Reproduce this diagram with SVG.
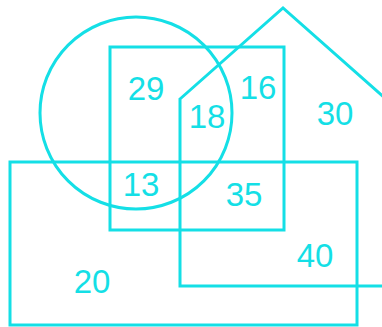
<svg xmlns="http://www.w3.org/2000/svg" width="382" height="327" viewBox="0 0 382 327">
<style>
.s{fill:none;stroke:#14dfe6;stroke-width:3}
.t{font-family:"Liberation Sans",Arial,sans-serif;font-size:33px;fill:#14dfe6;text-anchor:middle}
</style>
<rect width="382" height="327" fill="#fff"/>
<g id="circle"><circle class="s" cx="136" cy="113" r="96"/></g>
<g id="square"><rect class="s" x="110" y="47" width="174" height="183"/></g>
<g id="rectangle"><rect class="s" x="10" y="162" width="347" height="163"/></g>
<g id="house"><polygon class="s" points="180,99 283,8 386,99 386,286 180,286"/></g>
<g id="labels">
<text class="t" x="146" y="100">29</text>
<text class="t" x="258" y="99">16</text>
<text class="t" x="207" y="128">18</text>
<text class="t" x="335" y="125">30</text>
<text class="t" x="141" y="196">13</text>
<text class="t" x="244" y="206">35</text>
<text class="t" x="315" y="267">40</text>
<text class="t" x="92" y="293">20</text>
</g>
</svg>
